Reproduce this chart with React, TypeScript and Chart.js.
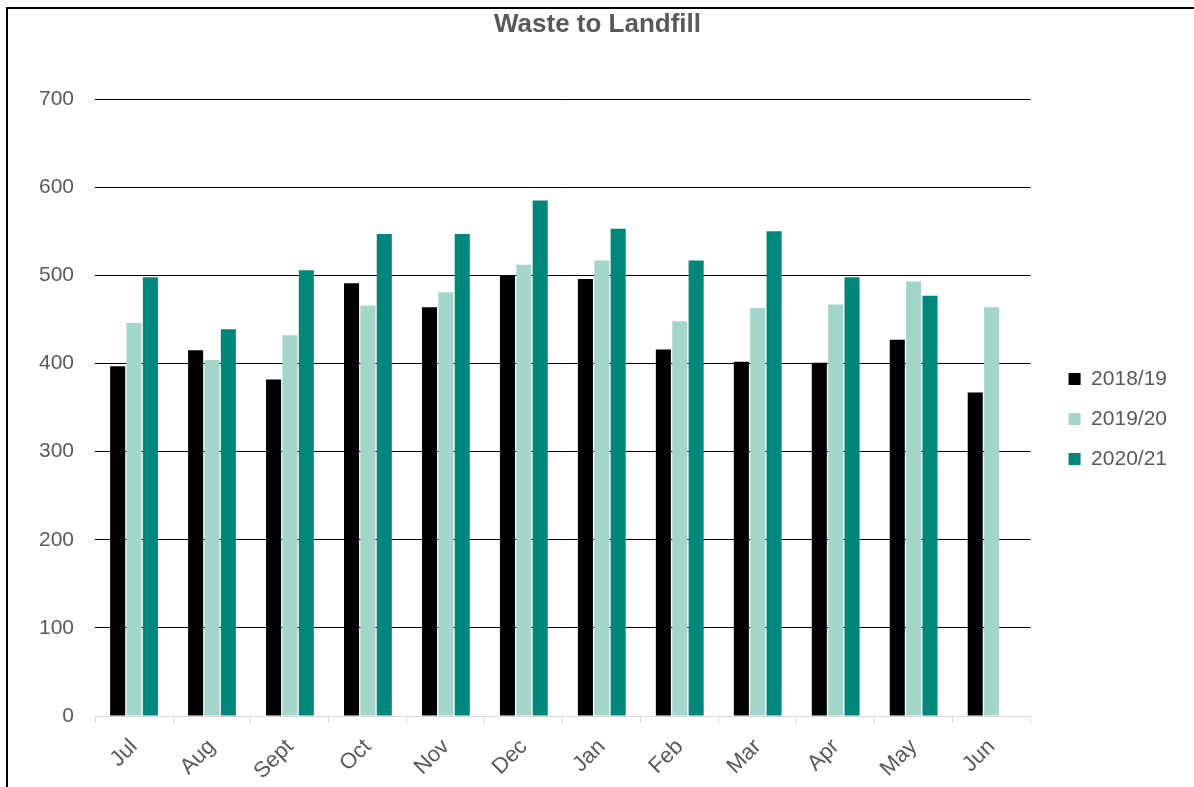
import React, { useEffect, useRef } from "react";
import { Chart, registerables } from "chart.js";

Chart.register(...registerables);

const categories = ["Jul", "Aug", "Sept", "Oct", "Nov", "Dec", "Jan", "Feb", "Mar", "Apr", "May", "Jun"];
const seriesNames = ["2018/19", "2019/20", "2020/21"];
const values2018 = [397, 415, 382, 491, 464, 500, 496, 416, 402, 401, 427, 367];
const values2019 = [446, 404, 432, 466, 481, 512, 517, 448, 463, 467, 493, 464];
const values2020 = [498, 439, 506, 547, 547, 585, 553, 517, 550, 498, 477, null];
const yTicks = [0, 100, 200, 300, 400, 500, 600, 700];

const colors = ["#000000", "#A3D5CB", "#00877B"];
const textColor = "#595959";
const fontFamily = "'Liberation Sans', Arial, sans-serif";

export default function App() {
  const canvasRef = useRef<HTMLCanvasElement | null>(null);

  useEffect(() => {
    const canvas = canvasRef.current;
    if (!canvas) return;
    Chart.defaults.font.family = fontFamily;
    const allSeries = [values2018, values2019, values2020];
    const chart = new Chart(canvas, {
      type: "bar",
      data: {
        labels: categories,
        datasets: seriesNames.map((name, i) => ({
          label: name,
          data: allSeries[i],
          backgroundColor: colors[i],
          borderWidth: 0,
          yAxisID: "y",
          categoryPercentage: 0.63,
          barPercentage: 0.92,
        })),
      },
      options: {
        responsive: false,
        animation: false,
        devicePixelRatio: 1,
        layout: { padding: { left: 10, right: 17, top: 0, bottom: 0 } },
        plugins: {
          title: {
            display: true,
            text: "Waste to Landfill",
            color: textColor,
            font: { size: 26, weight: "bold", family: fontFamily },
            padding: { top: 0, bottom: 59 },
          },
          legend: {
            display: true,
            position: "right",
            title: { display: true, text: " ", font: { size: 10 }, padding: { top: 15, bottom: 15 } },
            labels: {
              boxWidth: 12,
              boxHeight: 12,
              padding: 19,
              color: textColor,
              font: { size: 21, family: fontFamily },
            },
          },
          tooltip: { enabled: false },
        },
        scales: {
          x: {
            grid: {
              display: true,
              drawOnChartArea: false,
              drawTicks: true,
              tickLength: 7,
              color: "#D9D9D9",
              offset: true,
            },
            border: { display: true, color: "#D9D9D9", width: 1 },
            ticks: {
              color: textColor,
              font: { size: 22, family: fontFamily },
              minRotation: 45,
              maxRotation: 45,
              padding: 11,
            },
            afterFit: (scale: any) => {
              scale.height = 71;
            },
          },
          y: {
            position: "left",
            min: 0,
            max: 700,
            afterBuildTicks: (scale: any) => {
              scale.ticks = yTicks.map((v) => ({ value: v }));
            },
            grid: {
              drawTicks: false,
              color: (ctx: any) => (ctx.tick && ctx.tick.value === 0 ? "rgba(0,0,0,0)" : "#000000"),
              lineWidth: 1,
            },
            border: { display: false },
            ticks: {
              color: textColor,
              font: { size: 21, family: fontFamily },
              padding: 21,
              stepSize: 100,
            },
          },
          y2: {
            type: "linear",
            position: "right",
            display: true,
            grid: { display: false, drawTicks: false },
            border: { display: false },
            ticks: { display: false },
            afterFit: (scale: any) => {
              scale.width = 19;
            },
          },
        },
      },
    } as any);
    return () => chart.destroy();
  }, []);

  return (
    <div style={{ width: 1178, height: 770 }}>
      <div
        style={{
          position: "fixed",
          left: 6,
          top: 7,
          width: 1188,
          height: 780,
          borderTop: "2px solid #000",
          borderLeft: "2px solid #000",
          boxSizing: "border-box",
        }}
      />
      <canvas
        ref={canvasRef}
        width={1186}
        height={778}
        style={{ position: "fixed", left: 8, top: 9, width: 1186, height: 778 }}
      />
    </div>
  );
}
